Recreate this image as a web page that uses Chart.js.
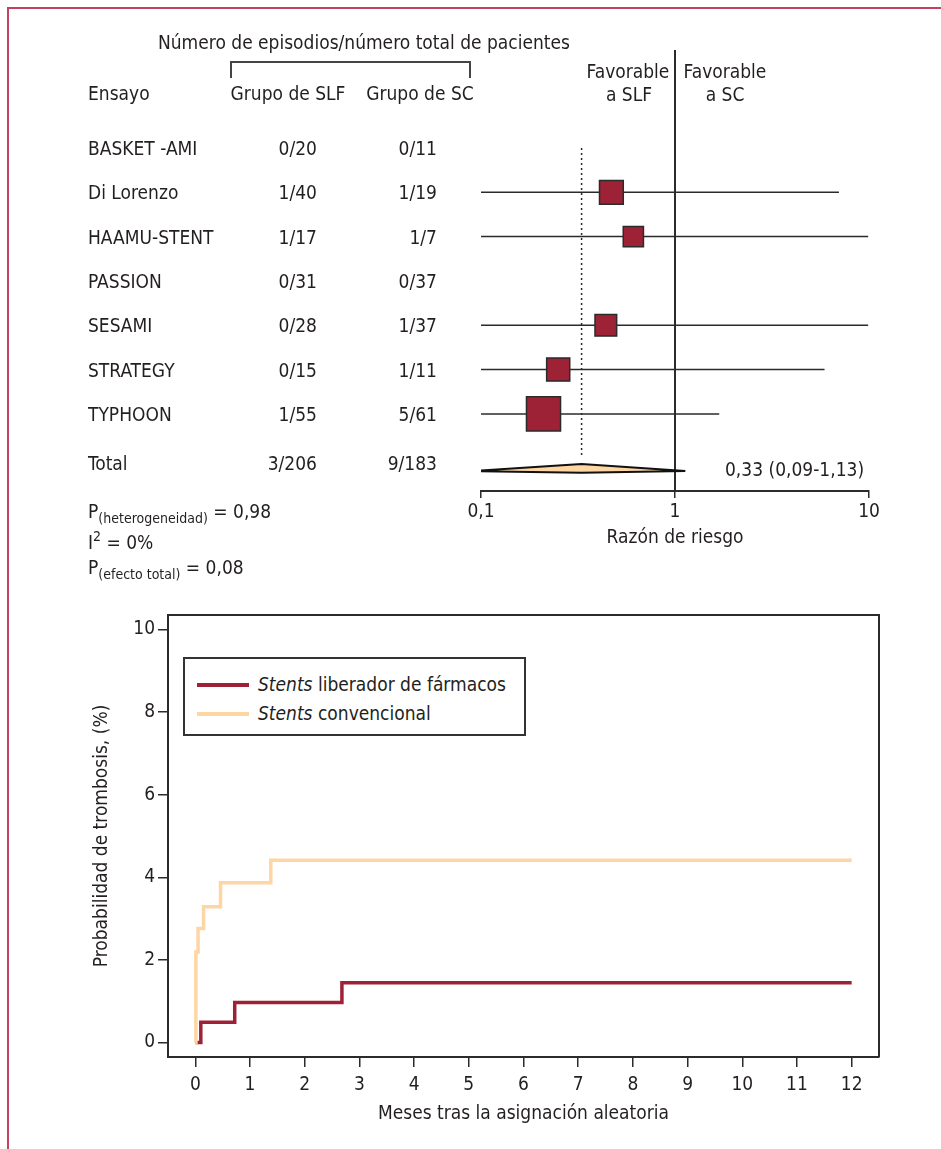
<!DOCTYPE html>
<html lang="es">
<head>
<meta charset="utf-8">
<title>Stents liberadores de fármacos frente a convencionales: trombosis</title>
<script src="https://cdn.jsdelivr.net/npm/chart.js@4.4.1/dist/chart.umd.min.js"></script>
<style>
  html, body { margin: 0; padding: 0; background: #fff; }
  body {
    position: relative; width: 941px; height: 1149px; overflow: hidden;
    font-family: "Liberation Sans Narrow", "DejaVu Sans Condensed", "Roboto Condensed", sans-serif;
    font-size: 19px; color: #231f20;
  }
  canvas { position: absolute; left: 0; }
  #forest { top: 0; }
  #km { top: 590px; }
  .frame {
    position: absolute; left: 7px; top: 7px; right: -10px; bottom: -10px;
    border-left: 2px solid #c2415f; border-top: 2px solid #c2415f;
  }
  .t { position: absolute; white-space: nowrap; line-height: 24px; height: 24px; }
  .t sub { font-size: 14px; vertical-align: -5px; line-height: 0; }
  .t sup { font-size: 14px; vertical-align: 8px; line-height: 0; }
  .bracket {
    position: absolute; left: 230px; top: 61px; width: 237px; height: 15px;
    border: 2px solid #444; border-bottom: none;
  }
  .legend {
    position: absolute; left: 183px; top: 657px; width: 339px; height: 75px;
    border: 2px solid #333; background: #fff;
  }
  .legend .item { position: absolute; left: 12px; height: 24px; line-height: 24px; white-space: nowrap; }
  .legend .swatch { display: inline-block; width: 52px; height: 4px; vertical-align: middle; margin-right: 9px; position: relative; top: -1px; }
</style>
</head>
<body>
<div class="frame"></div>
<canvas id="forest" width="941" height="560"></canvas>
<canvas id="km" width="941" height="559"></canvas>
<div class="bracket"></div>
<div class="legend" id="km-legend"></div>
<script>
// ---- forest plot data ----
const studies = ["BASKET -AMI", "Di Lorenzo", "HAAMU-STENT", "PASSION", "SESAMI", "STRATEGY", "TYPHOON"];
const slfEvents = [0, 1, 1, 0, 0, 0, 1];
const slfTotals = [20, 40, 17, 31, 28, 15, 55];
const scEvents = [0, 1, 1, 0, 1, 1, 5];
const scTotals = [11, 19, 7, 37, 37, 11, 61];
// risk ratio and 95% CI; null = no events in either arm
const riskRatio = [null, 0.47, 0.61, null, 0.44, 0.25, 0.21];
const ciLow = [null, 0.1, 0.1, null, 0.1, 0.1, 0.1];
const ciHigh = [null, 7.0, 9.9, null, 9.9, 5.9, 1.69];
const weights = [null, 18, 13, null, 15, 17, 37];
const pooled = 0.33;
const pooledLow = 0.09;
const pooledHigh = 1.13;
const rrTicks = [0.1, 1, 10];

// ---- Kaplan-Meier data ----
const slfMonths = [0, 0.1, 0.72, 2.68, 12];
const slfPct = [0, 0.49, 0.97, 1.45, 1.45];
const scMonths = [0, 0.01, 0.05, 0.15, 0.46, 1.38, 12];
const scPct = [0, 2.19, 2.76, 3.29, 3.87, 4.41, 4.41];
const monthTicks = [0, 1, 2, 3, 4, 5, 6, 7, 8, 9, 10, 11, 12];
const pctTicks = [0, 2, 4, 6, 8, 10];

const INK = "#231f20";
const LINE = "#2b2b2b";
const RED = "#9e2236";
const PEACH = "#fdd6a3";
const FAMILY = getComputedStyle(document.body).fontFamily;

Chart.defaults.font.family = FAMILY;
Chart.defaults.font.size = 19;
Chart.defaults.color = INK;

const fmt = (v) => String(v).replace(".", ",");

// rows run 0..6, total sits below; y range chosen so row 0 lands under the headers
const Y_TOP = -2.21;
const Y_BOTTOM = 7.74;
const totalRow = 7.29;

function segment(x1, y1, x2, y2, extra) {
  return Object.assign({
    data: [{ x: x1, y: y1 }, { x: x2, y: y2 }],
    showLine: true, borderColor: LINE, borderWidth: 1.5, pointRadius: 0,
  }, extra || {});
}

const forestSets = [];
forestSets.push(segment(1, Y_TOP, 1, Y_BOTTOM, { borderWidth: 2 }));
forestSets.push(segment(pooled, 0, pooled, totalRow - 0.32, { borderDash: [2, 3] }));
studies.forEach((name, i) => {
  if (riskRatio[i] === null) return;
  forestSets.push(segment(ciLow[i], i, ciHigh[i], i));
});
forestSets.unshift({
  data: studies.map((name, i) => ({ x: riskRatio[i], y: i })).filter((p) => p.x !== null),
  pointStyle: "rect",
  pointRadius: weights.filter((w) => w !== null).map((w) => (5.6 * Math.sqrt(w)) / Math.SQRT2),
  pointBackgroundColor: RED,
  pointBorderColor: LINE,
  pointBorderWidth: 1.5,
});
forestSets.unshift({
  data: [
    { x: pooledLow, y: totalRow },
    { x: pooled, y: totalRow - 0.16 },
    { x: pooledHigh, y: totalRow },
    { x: pooled, y: totalRow + 0.04 },
    { x: pooledLow, y: totalRow },
  ],
  showLine: true, fill: "shape", backgroundColor: PEACH,
  borderColor: "#111", borderWidth: 2, pointRadius: 0,
});

const forestChart = new Chart(document.getElementById("forest"), {
  type: "scatter",
  data: { datasets: forestSets },
  options: {
    responsive: false,
    animation: false,
    layout: { padding: { left: 481, right: 72, top: 50, bottom: 0 } },
    plugins: { legend: { display: false }, tooltip: { enabled: false } },
    scales: {
      x: {
        type: "logarithmic", min: 0.1, max: 10,
        afterBuildTicks: (s) => { s.ticks = rrTicks.map((v) => ({ value: v })); },
        afterFit: (s) => { s.height = 69; },
        grid: { drawOnChartArea: false, tickLength: 7, color: LINE, lineWidth: 1.5 },
        border: { color: LINE, width: 2 },
        ticks: { callback: (v) => fmt(v), padding: 3, maxRotation: 0 },
        title: { display: true, text: "Razón de riesgo", padding: { top: 0, bottom: 11 } },
      },
      y: { type: "linear", display: false, reverse: true, min: Y_TOP, max: Y_BOTTOM },
    },
  },
});

function addText(html, x, y, align) {
  const el = document.createElement("div");
  el.className = "t";
  el.innerHTML = html;
  el.style.top = `${Math.round(y - 12)}px`;
  if (align === "right") {
    el.style.left = `${x - 300}px`; el.style.width = "300px"; el.style.textAlign = "right";
  } else if (align === "center") {
    el.style.left = `${x - 150}px`; el.style.width = "300px"; el.style.textAlign = "center";
  } else {
    el.style.left = `${x}px`;
  }
  document.body.appendChild(el);
}

const rowY = (v) => forestChart.scales.y.getPixelForValue(v);
addText("Número de episodios/número total de pacientes", 158, 42, "left");
addText("Ensayo", 88, 93, "left");
addText("Grupo de SLF", 288, 93, "center");
addText("Grupo de SC", 420, 93, "center");
addText("Favorable", 628, 71, "center");
addText("a SLF", 629, 94, "center");
addText("Favorable", 725, 71, "center");
addText("a SC", 725, 94, "center");
studies.forEach((name, i) => {
  addText(name, 88, rowY(i), "left");
  addText(`${slfEvents[i]}/${slfTotals[i]}`, 317, rowY(i), "right");
  addText(`${scEvents[i]}/${scTotals[i]}`, 437, rowY(i), "right");
});
const sum = (a) => a.reduce((s, v) => s + v, 0);
const totalY = rowY(totalRow) - 8;
addText("Total", 88, totalY, "left");
addText(`${sum(slfEvents)}/${sum(slfTotals)}`, 317, totalY, "right");
addText(`${sum(scEvents)}/${sum(scTotals)}`, 437, totalY, "right");
addText(`${fmt(pooled)} (${fmt(pooledLow)}-${fmt(pooledHigh)})`, 725, rowY(totalRow) - 2, "left");
addText("P<sub>(heterogeneidad)</sub> = 0,98", 88, 511, "left");
addText("I<sup>2</sup> = 0%", 88, 542, "left");
addText("P<sub>(efecto total)</sub> = 0,08", 88, 567, "left");

// ---- Kaplan-Meier chart ----
const boxFrame = {
  id: "boxFrame",
  afterDraw(chart) {
    const { ctx, chartArea: a } = chart;
    ctx.save();
    ctx.strokeStyle = LINE;
    ctx.lineWidth = 2;
    ctx.beginPath();
    ctx.moveTo(a.left, a.top);
    ctx.lineTo(a.right, a.top);
    ctx.lineTo(a.right, a.bottom);
    ctx.stroke();
    ctx.restore();
  },
};

const kmSeries = [
  { label: "<i>Stents</i> liberador de fármacos", months: slfMonths, pct: slfPct, color: RED },
  { label: "<i>Stents</i> convencional", months: scMonths, pct: scPct, color: PEACH },
];

new Chart(document.getElementById("km"), {
  type: "scatter",
  data: {
    datasets: kmSeries.map((s, i) => ({
      data: s.months.map((m, j) => ({ x: m, y: s.pct[j] })),
      showLine: true, stepped: true, borderColor: s.color, borderWidth: 3.5,
      borderJoinStyle: "miter", pointRadius: 0, order: i === 0 ? 1 : 0,
    })),
  },
  options: {
    responsive: false,
    animation: false,
    layout: { padding: { left: 0, right: 62, top: 25, bottom: 0 } },
    plugins: { legend: { display: false }, tooltip: { enabled: false } },
    scales: {
      x: {
        type: "linear", min: -0.5, max: 12.5,
        afterBuildTicks: (s) => { s.ticks = monthTicks.map((v) => ({ value: v })); },
        afterFit: (s) => { s.height = 92; },
        grid: { drawOnChartArea: false, tickLength: 10, color: LINE, lineWidth: 1.5 },
        border: { color: LINE, width: 2 },
        ticks: { padding: 7, maxRotation: 0 },
        title: { display: true, text: "Meses tras la asignación aleatoria", padding: { top: 0, bottom: 24 } },
      },
      y: {
        type: "linear", min: -0.35, max: 10.35,
        afterBuildTicks: (s) => { s.ticks = pctTicks.map((v) => ({ value: v })); },
        afterFit: (s) => { s.width = 168; },
        grid: { drawOnChartArea: false, tickLength: 10, color: LINE, lineWidth: 1.5 },
        border: { color: LINE, width: 2 },
        ticks: { padding: 3 },
        title: { display: true, text: "Probabilidad de trombosis, (%)", padding: { top: 91, bottom: 0 } },
      },
    },
  },
  plugins: [boxFrame],
});

const legendEl = document.getElementById("km-legend");
kmSeries.forEach((s, i) => {
  const item = document.createElement("div");
  item.className = "item";
  item.style.top = `${13 + i * 29}px`;
  item.innerHTML = `<span class="swatch" style="background:${s.color}"></span>${s.label}`;
  legendEl.appendChild(item);
});
</script>
</body>
</html>
